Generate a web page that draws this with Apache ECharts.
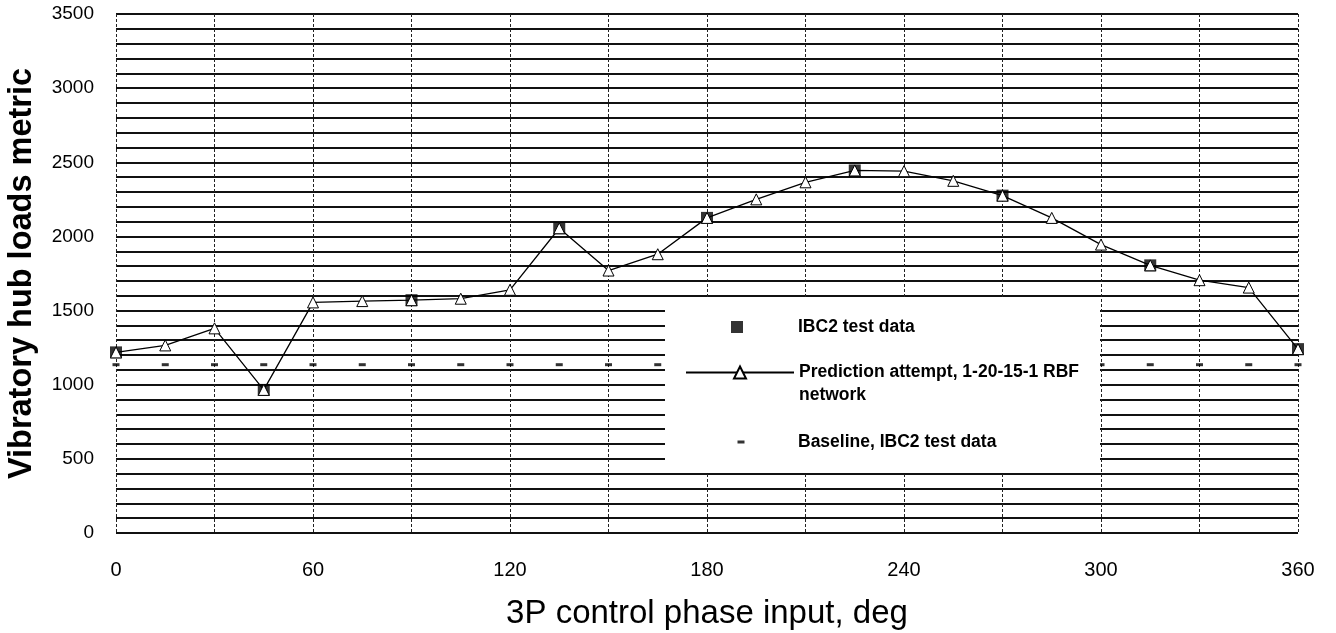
<!DOCTYPE html>
<html><head><meta charset="utf-8">
<script src="https://cdn.jsdelivr.net/npm/echarts@6/dist/echarts.min.js"></script>
<style>html,body{margin:0;padding:0;background:#fff}#c{width:1336px;height:633px}</style>
</head><body><div id="c"></div>
<script>
// ---- data ----
const phaseDeg = [0,15,30,45,60,75,90,105,120,135,150,165,180,195,210,225,240,255,270,285,300,315,330,345,360];
const predictionValues = [1218,1265,1380,965,1555,1564,1570,1580,1640,2055,1770,1880,2125,2250,2365,2445,2440,2375,2275,2125,1945,1805,1705,1655,1240];
const testDeg = [0,45,90,135,180,225,270,315,360];
const testValues = [1218,965,1570,2055,2125,2445,2275,1805,1240];
const baselineValues = [1135,1135,1135,1135,1135,1135,1135,1135,1135,1135,1135,1135,1135,1135,1135,1135,1135,1135,1135,1135,1135,1135,1135,1135,1135];
const xTickLabels = [0,60,120,180,240,300,360];
const yTickLabels = [0,500,1000,1500,2000,2500,3000,3500];
const seriesNames = ['IBC2 test data','Prediction attempt, 1-20-15-1 RBF network','Baseline, IBC2 test data'];

const FONT = "'Liberation Sans', Arial, sans-serif";
const chart = echarts.init(document.getElementById('c'), null, {renderer:'canvas'});

const legendText = {color:'#000', fontFamily:FONT, fontWeight:'bold', fontSize:17.5};
function spacedLegend(spacer){
  return Object.assign({}, legendText, {rich:{
    s:{width:spacer, fontSize:17.5},
    t:{color:'#000', fontFamily:FONT, fontWeight:'bold', fontSize:17.5}
  }});
}

const option = {
  backgroundColor:'#fff',
  animation:false,
  grid:{left:116, right:38, top:14, bottom:100, containLabel:false, outerBoundsMode:'none'},
  xAxis:{
    type:'value', min:0, max:360, interval:30,
    axisLine:{show:false}, axisTick:{show:false},
    axisLabel:{margin:27, color:'#000', fontFamily:FONT, fontSize:20,
      formatter:v => xTickLabels.includes(v) ? String(v) : ''},
    splitLine:{show:true, lineStyle:{color:'#222', width:1, type:[3,2]}},
    name:'3P control phase input, deg', nameLocation:'middle', nameGap:64,
    nameTextStyle:{color:'#000', fontFamily:FONT, fontSize:33}
  },
  yAxis:{
    type:'value', min:0, max:3500, interval:100,
    axisLine:{show:false}, axisTick:{show:false},
    axisLabel:{margin:22, color:'#000', fontFamily:FONT, fontSize:19,
      formatter:v => yTickLabels.includes(v) ? String(v) : ''},
    splitLine:{show:true, lineStyle:{color:'#111', width:2}},
    name:'Vibratory hub loads metric', nameLocation:'middle', nameGap:77,
    nameTextStyle:{color:'#000', fontFamily:FONT, fontSize:32.5, fontWeight:'bold'}
  },
  legend:[
    {data:[seriesNames[0]], selectedMode:false, orient:'vertical', left:731, top:318, padding:0,
     itemWidth:12, itemHeight:12, icon:'rect',
     formatter:n => '{s| }{t|' + n + '}', textStyle:spacedLegend(50), z:20},
    {data:[seriesNames[1]], selectedMode:false, orient:'vertical', left:685, top:338, padding:0,
     itemWidth:108, itemHeight:15,
     formatter:() => ' \nPrediction attempt, 1-20-15-1 RBF\nnetwork',
     textStyle:Object.assign({}, legendText, {lineHeight:23}), z:20},
    {data:[seriesNames[2]], selectedMode:false, orient:'vertical', left:737.5, top:433, padding:0,
     itemWidth:7, itemHeight:3, icon:'rect',
     formatter:n => '{s| }{t|' + n + '}', textStyle:spacedLegend(48.5), z:20}
  ],
  series:[
    {name:seriesNames[0], type:'scatter', z:3,
     data:testDeg.map((d,i)=>[d,testValues[i]]),
     symbol:'rect', symbolSize:12, itemStyle:{color:'#000'}},
    {name:seriesNames[1], type:'line', z:4,
     data:phaseDeg.map((d,i)=>[d,predictionValues[i]]),
     symbol:'triangle', symbolSize:11, showAllSymbol:true,
     lineStyle:{color:'#000', width:1.3},
     itemStyle:{color:'#fff', borderColor:'#000', borderWidth:1}},
    {name:seriesNames[2], type:'scatter', z:3,
     data:phaseDeg.map((d,i)=>[d,baselineValues[i]]),
     symbol:'rect', symbolSize:[7,3], itemStyle:{color:'#000'}}
  ]
};
chart.setOption(option);

// white legend panel, placed from the axis scales (covers the grid between the 1600 and 400 lines)
const pTop = chart.convertToPixel({gridIndex:0}, [0,1600])[1];
const pBot = chart.convertToPixel({gridIndex:0}, [0,400])[1];
const pRight = chart.convertToPixel({gridIndex:0}, [300,0])[0];
chart.setOption({graphic:[{type:'rect', z:10,
  shape:{x:665, y:pTop+1.5, width:pRight-1-665, height:(pBot-1.5)-(pTop+1.5)},
  style:{fill:'#fff'}}]});
</script></body></html>
